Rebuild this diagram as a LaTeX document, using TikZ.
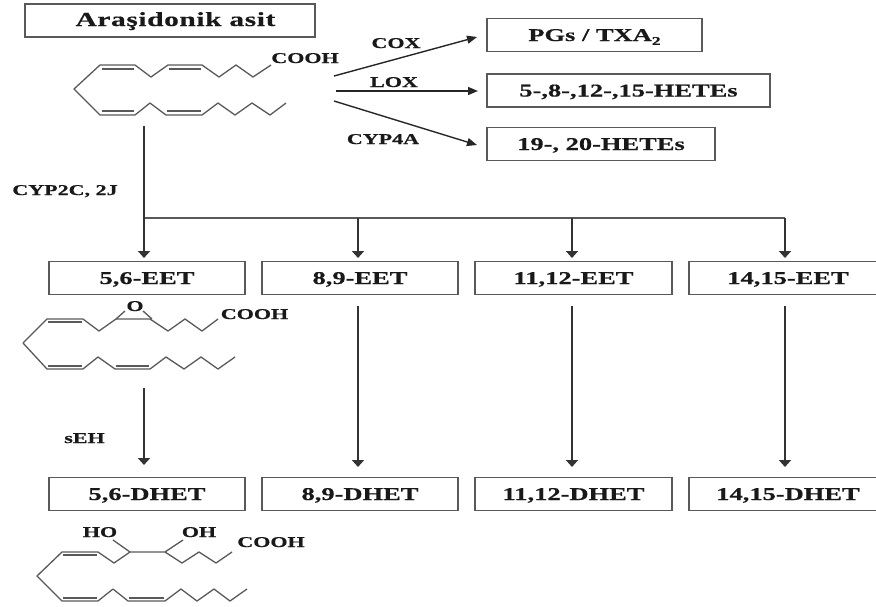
\documentclass[tikz,border=0pt]{standalone}
\usepackage{fontspec}
\setmainfont{Liberation Serif}[FakeStretch=1.47,BoldFeatures={FakeBold=0.5}]
\usetikzlibrary{arrows.meta}
\tikzset{
  box/.style={draw=black!65,line width=1.6pt,inner sep=0pt,minimum height=33pt,text height=12pt,text depth=0pt,font=\bfseries\fontsize{18}{18}\selectfont,text=black!90},
  arrv/.style={line width=1.8pt,black!80,-{Triangle[length=7pt,width=12pt]}},
  arrh/.style={line width=1.4pt,black!85,-{Triangle[length=10pt,width=8pt]}},
  bond/.style={line width=1.3pt,black!65,line join=round},
  lbl/.style={inner sep=0pt,text height=10pt,text depth=0pt,font=\bfseries\fontsize{15}{15}\selectfont,text=black!90}
}
\begin{document}
\begin{tikzpicture}[x=1pt,y=-1pt]
\useasboundingbox (0,0) rectangle (876,606);
\clip (0,0) rectangle (876,606);
\node[box,minimum width=290pt,text height=13pt,font=\bfseries\fontsize{20}{20}\selectfont\addfontfeature{LetterSpace=3}] (aa) at (170,20.5) {};
\node[inner sep=0pt,text height=13pt,text depth=0pt,font=\bfseries\fontsize{20}{20}\selectfont\addfontfeature{LetterSpace=3},text=black!90] (aat) at (175.5,19.5) {Araşidonik asit};
\node[box,minimum width=215pt] (pg) at (594.5,35) {PGs / TXA\raisebox{-0.22em}{\fontsize{12}{12}\selectfont 2}};
\node[box,minimum width=283pt] (hl) at (628.5,90.5) {5-,8-,12-,15-HETEs};
\node[box,minimum width=228pt] (hw) at (601,144) {19-, 20-HETEs};
\node[box,minimum width=196pt] (e1) at (147,278) {5,6-EET};
\node[box,minimum width=196pt] (e2) at (360,278) {8,9-EET};
\node[box,minimum width=197pt] (e3) at (573.5,278) {11,12-EET};
\node[box,minimum width=198pt] (e4) at (788,278) {14,15-EET};
\node[box,minimum width=196pt] (d1) at (147,494) {5,6-DHET};
\node[box,minimum width=196pt] (d2) at (360,494) {8,9-DHET};
\node[box,minimum width=197pt] (d3) at (573.5,494) {11,12-DHET};
\node[box,minimum width=198pt] (d4) at (788,494) {14,15-DHET};
% molecules
\draw[bond] (271,65)--(253,77)--(236,65)--(219,77)--(202,65)--(168,65)--(151,77)--(135,65)--(100,65)--(74,89)--(100,115)--(135,115)--(150,103)--(166,115)--(202,115)--(218,103)--(235,115)--(252,103)--(270,115)--(286,103);
\draw[bond] (102,69)--(134,69) (169,69)--(201,69) (102,111)--(134,111) (167,111)--(201,111);
\node[lbl] (c1) at (305,58) {COOH};
\draw[bond] (218,319)--(202,331)--(185,319)--(168,331)--(150,319)--(116,319)--(99,331)--(83,319)--(47,319)--(23,343)--(47,369)--(83,369)--(98,357)--(115,369)--(150,369)--(166,357)--(184,369)--(201,357)--(218,369)--(235,357);
\draw[bond] (48,322)--(82,322) (48,366)--(82,366) (116,366)--(149,366);
\draw[bond] (116,319)--(125,311) (143,311)--(152,319);
\node[lbl] (o1) at (135,306) {O};
\node[lbl] (c2) at (254.5,314) {COOH};
\draw[bond] (232,552)--(216,563)--(199,552)--(182,563)--(165,552)--(130,552)--(114,563)--(98,552)--(62,552)--(37,576)--(62,601)--(98,601)--(113,589)--(128,601)--(165,601)--(181,589)--(197,601)--(214,589)--(230,601)--(247,589);
\draw[bond] (63,555)--(97,555) (63,598)--(97,598) (129,598)--(164,598);
\draw[bond] (130,552)--(113,540) (165,552)--(183,540);
\node[lbl] (ho) at (100,532) {HO};
\node[lbl] (oh) at (199,532) {OH};
\node[lbl] (c3) at (271,542) {COOH};
% top arrows
\coordinate (s1) at (334,76);\coordinate (t1) at (477,37);
\coordinate (s2) at (336,91);\coordinate (t2) at (478,91);
\coordinate (s3) at (334,101);\coordinate (t3) at (477,145);
\draw[arrh] (s1)--(t1);
\draw[arrh] (s2)--(t2);
\draw[arrh] (s3)--(t3);
\node[lbl] (lc) at (396,43) {COX};
\node[lbl] (ll) at (394,82) {LOX};
\node[lbl] (lp) at (383,139) {CYP4A};
% main
\coordinate (t) at (144,126);
\coordinate (j1) at (144,218);\coordinate (j2) at (358,218);\coordinate (j3) at (572,218);\coordinate (j4) at (785,218);
\coordinate (k1) at (144,258);\coordinate (k2) at (358,258);\coordinate (k3) at (572,258);\coordinate (k4) at (785,258);
\draw[line width=1.2pt,black!65] (j1)--(j4);
\draw[arrv] (t)--(k1);
\draw[arrv] (j2)--(k2);
\draw[arrv] (j3)--(k3);
\draw[arrv] (j4)--(k4);
\node[lbl] (cy) at (65,190) {CYP2C, 2J};
\coordinate (u1) at (144,388);\coordinate (v1) at (144,465);
\draw[arrv] (u1)--(v1);
\node[lbl] (se) at (84.5,438) {sEH};
\coordinate (u2) at (358,306);\coordinate (u3) at (572,306);\coordinate (u4) at (785,306);
\coordinate (v2) at (358,467);\coordinate (v3) at (572,467);\coordinate (v4) at (785,467);
\draw[arrv] (u2)--(v2);
\draw[arrv] (u3)--(v3);
\draw[arrv] (u4)--(v4);
\end{tikzpicture}
\end{document}
